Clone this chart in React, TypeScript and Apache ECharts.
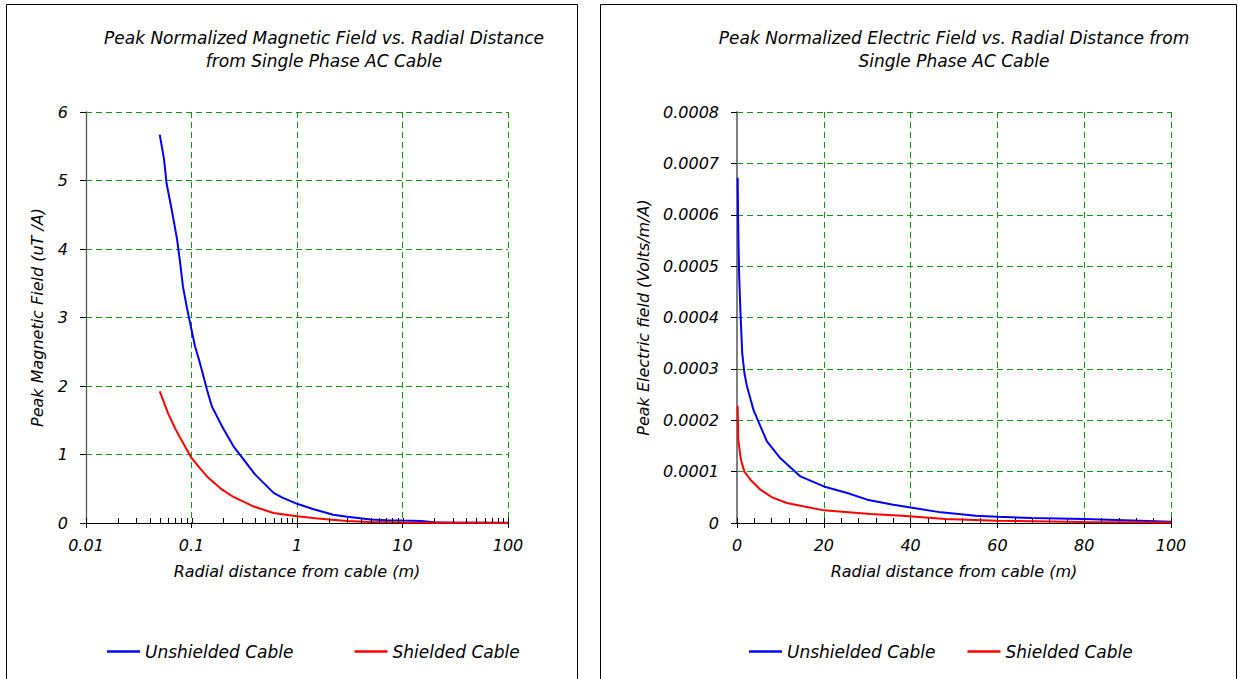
import React, { useEffect, useRef } from "react";
import * as echarts from "echarts";

// ---- Data ----
const seriesNames = ["Unshielded Cable", "Shielded Cable"];

// Left chart: magnetic field (uT/A) vs radial distance (m), log x-axis
const magUnshielded: [number, number][] = [
  [0.05, 5.67], [0.055, 5.3], [0.058, 4.96], [0.065, 4.57], [0.073, 4.14],
  [0.078, 3.8], [0.083, 3.45], [0.09, 3.16], [0.1, 2.82], [0.108, 2.58],
  [0.12, 2.34], [0.14, 1.95], [0.156, 1.7], [0.195, 1.41], [0.25, 1.12],
  [0.4, 0.71], [0.6, 0.44], [0.72, 0.375], [1, 0.28], [1.44, 0.2],
  [2.2, 0.12], [3, 0.09], [5, 0.05], [7, 0.04], [10, 0.035], [15, 0.03],
  [20, 0.01], [30, 0.005], [50, 0.003], [100, 0.002],
];
const magShielded: [number, number][] = [
  [0.05, 1.92], [0.06, 1.6], [0.07, 1.38], [0.083, 1.17], [0.1, 0.95],
  [0.12, 0.8], [0.14, 0.68], [0.195, 0.486], [0.25, 0.38], [0.39, 0.24],
  [0.6, 0.146], [1, 0.1], [1.5, 0.07], [2, 0.05], [3, 0.03], [5, 0.015],
  [10, 0.008], [20, 0.004], [50, 0.002], [100, 0.001],
];

// Right chart: electric field (V/m/A) vs radial distance (m)
const elecUnshielded: [number, number][] = [
  [0.15, 0.000672], [0.3, 0.000565], [0.5, 0.00048], [0.8, 0.000409],
  [1.2, 0.000331], [1.7, 0.000292], [2.3, 0.000266], [3.8, 0.00022],
  [5.4, 0.000188], [6.9, 0.000159], [10, 0.000126], [14.6, 0.0000907],
  [20, 0.0000712], [25.4, 0.0000584], [30, 0.0000454], [36, 0.0000356],
  [40, 0.00003], [47, 0.0000207], [55, 0.0000142], [60, 0.0000123],
  [68, 0.0000097], [80, 0.0000078], [91, 0.0000051], [100, 0.0000025],
];
const elecShielded: [number, number][] = [
  [0.15, 0.000228], [0.3, 0.000162], [0.9, 0.000123], [1.7, 0.0001],
  [3.1, 0.0000843], [5.4, 0.0000648], [8.1, 0.0000499], [11.5, 0.0000389],
  [20, 0.0000246], [30.7, 0.0000175], [38, 0.0000142], [42, 0.0000117],
  [48, 0.0000078], [60, 0.0000045], [80, 0.000002], [100, 0.000001],
];

// Tick positions of the log axis (major + minor, for the upward tick marks)
const logTickValues: number[] = [
  0.01, 0.02, 0.03, 0.04, 0.05, 0.06, 0.07, 0.08, 0.09,
  0.1, 0.2, 0.3, 0.4, 0.5, 0.6, 0.7, 0.8, 0.9,
  1, 2, 3, 4, 5, 6, 7, 8, 9,
  10, 20, 30, 40, 50, 60, 70, 80, 90, 100,
];

const leftTitle = ["Peak Normalized Magnetic Field vs. Radial Distance", "from Single Phase AC Cable"];
const rightTitle = ["Peak Normalized Electric Field vs. Radial Distance from", "Single Phase AC Cable"];
const xAxisName = "Radial distance from cable (m)";
const leftYName = "Peak Magnetic Field (uT /A)";
const rightYName = "Peak Electric field (Volts/m/A)";

const FONT = "DejaVu Sans";
const BLUE = "#0000ff";
const RED = "#ff0000";
const GRID_GREEN = "#119611";

const txt = (size: number) => ({
  fontFamily: FONT,
  fontStyle: "italic" as const,
  fontSize: size,
  color: "#000",
});

const splitLine = {
  show: true,
  lineStyle: { color: GRID_GREEN, type: [6, 4] as any, width: 1 },
};

export default function App() {
  const ref = useRef<HTMLDivElement>(null);

  useEffect(() => {
    if (!ref.current) return;
    const chart = echarts.init(ref.current, null, { renderer: "svg" });

    const titleText = (text: string, x: number, y: number) => ({
      type: "text",
      x,
      y,
      style: {
        text,
        fill: "#000",
        fontFamily: FONT,
        fontStyle: "italic",
        fontSize: 17,
        align: "center",
        verticalAlign: "middle",
      },
    });

    const legendBase = {
      data: seriesNames,
      top: 643,
      padding: 0,
      icon: "rect",
      itemWidth: 33,
      itemHeight: 2.5,
      selectedMode: false,
      textStyle: txt(17),
    };

    const option: any = {
      animation: false,
      backgroundColor: "#fff",
      graphic: [
        { type: "rect", shape: { x: 6.5, y: 4.5, width: 571, height: 700 }, style: { fill: "none", stroke: "#000", lineWidth: 1 } },
        { type: "rect", shape: { x: 600.5, y: 4.5, width: 636, height: 700 }, style: { fill: "none", stroke: "#000", lineWidth: 1 } },
        titleText(leftTitle[0], 324, 38),
        titleText(leftTitle[1], 324, 61),
        titleText(rightTitle[0], 954, 38),
        titleText(rightTitle[1], 954, 61),
      ],
      legend: [
        { ...legendBase, left: 107, itemGap: 61 },
        { ...legendBase, left: 749, itemGap: 32 },
      ],
      grid: [
        { left: 86, top: 112, width: 422, height: 411, containLabel: false },
        { left: 737, top: 112, width: 434, height: 411, containLabel: false },
      ],
      xAxis: [
        {
          gridIndex: 0,
          type: "log",
          logBase: 10,
          min: 0.01,
          max: 100,
          position: "bottom",
          name: xAxisName,
          nameLocation: "middle",
          nameGap: 40,
          nameTextStyle: txt(16),
          axisLine: { show: true, onZero: false, lineStyle: { color: "#000", width: 1 } },
          axisTick: { show: true, inside: false, length: 5, lineStyle: { color: "#000" } },
          axisLabel: {
            ...txt(16),
            margin: 14,
            formatter: (v: number) => String(Number(v.toPrecision(6))),
          },
          splitLine,
        },
        {
          gridIndex: 1,
          type: "value",
          min: 0,
          max: 100,
          interval: 20,
          position: "bottom",
          name: xAxisName,
          nameLocation: "middle",
          nameGap: 40,
          nameTextStyle: txt(16),
          axisLine: { show: true, onZero: false, lineStyle: { color: "#000", width: 1 } },
          axisTick: { show: true, inside: false, length: 5, lineStyle: { color: "#000" } },
          axisLabel: { ...txt(16), margin: 14 },
          splitLine,
        },
        {
          // overlay axis: upward major + minor ticks for the right chart
          gridIndex: 1,
          type: "value",
          min: 0,
          max: 100,
          interval: 20,
          position: "bottom",
          axisLine: { show: false },
          axisLabel: { show: false },
          splitLine: { show: false },
          axisTick: { show: true, inside: true, length: 5, lineStyle: { color: "#000" } },
          minorTick: { show: true, splitNumber: 5, length: 5, lineStyle: { color: "#000" } },
        },
      ],
      yAxis: [
        {
          gridIndex: 0,
          type: "value",
          min: 0,
          max: 6,
          interval: 1,
          name: leftYName,
          nameLocation: "middle",
          nameGap: 41,
          nameTextStyle: txt(16),
          axisLine: { show: true, lineStyle: { color: "#555", width: 1.3 } },
          axisTick: { show: true, inside: false, length: 6, lineStyle: { color: "#000" } },
          axisLabel: { ...txt(16), margin: 18 },
          splitLine,
        },
        {
          gridIndex: 1,
          type: "value",
          min: 0,
          max: 0.0008,
          interval: 0.0001,
          name: rightYName,
          nameLocation: "middle",
          nameGap: 86,
          nameTextStyle: txt(16),
          axisLine: { show: true, lineStyle: { color: "#808080", width: 2 } },
          axisTick: { show: true, inside: false, length: 6, lineStyle: { color: "#000" } },
          axisLabel: {
            ...txt(16),
            margin: 18,
            formatter: (v: number) => (v === 0 ? "0" : v.toFixed(4)),
          },
          splitLine,
        },
      ],
      series: [
        {
          name: seriesNames[0],
          type: "line",
          xAxisIndex: 0,
          yAxisIndex: 0,
          data: magUnshielded,
          symbol: "none",
          lineStyle: { color: BLUE, width: 2 },
          itemStyle: { color: BLUE },
        },
        {
          name: seriesNames[1],
          type: "line",
          xAxisIndex: 0,
          yAxisIndex: 0,
          data: magShielded,
          symbol: "none",
          lineStyle: { color: RED, width: 2 },
          itemStyle: { color: RED },
        },
        {
          name: seriesNames[0],
          type: "line",
          xAxisIndex: 1,
          yAxisIndex: 1,
          data: elecUnshielded,
          symbol: "none",
          lineStyle: { color: BLUE, width: 2 },
          itemStyle: { color: BLUE },
        },
        {
          name: seriesNames[1],
          type: "line",
          xAxisIndex: 1,
          yAxisIndex: 1,
          data: elecShielded,
          symbol: "none",
          lineStyle: { color: RED, width: 2 },
          itemStyle: { color: RED },
        },
        {
          name: "logTicks",
          type: "custom",
          xAxisIndex: 0,
          yAxisIndex: 0,
          silent: true,
          z: 10,
          data: logTickValues.map((v) => [v, 0]),
          renderItem: (_params: any, api: any) => {
            const p = api.coord([api.value(0), 0]);
            const x = Math.round(p[0]) + 0.5;
            return {
              type: "line",
              shape: { x1: x, y1: p[1], x2: x, y2: p[1] - 5 },
              style: { stroke: "#000", lineWidth: 1 },
            };
          },
        },
      ],
    };

    chart.setOption(option);
    return () => chart.dispose();
  }, []);

  return (
    <div
      ref={ref}
      style={{ position: "absolute", left: 0, top: 0, width: 1239, height: 679, background: "#fff" }}
    />
  );
}
